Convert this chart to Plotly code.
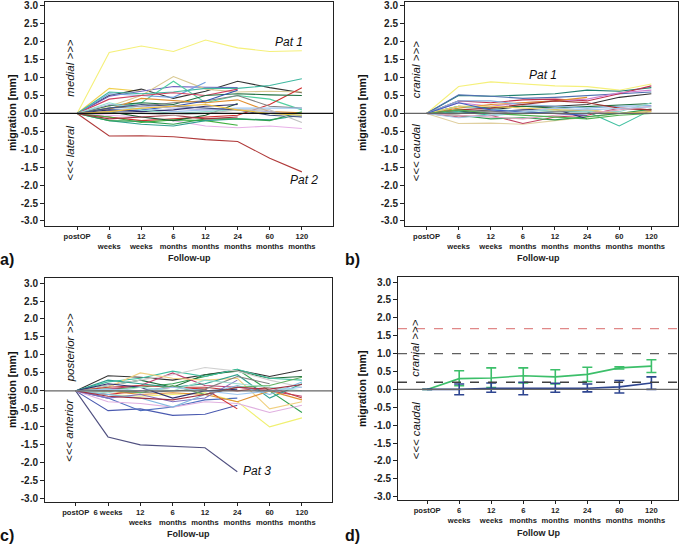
import plotly.graph_objects as go

# follow-up time points
labels = ["postOP", "6<br>weeks", "12<br>weeks", "6<br>months", "12<br>months",
          "24<br>months", "60<br>months", "120<br>months"]
labels_c = ["postOP", "6 weeks", "12<br>weeks", "6<br>months", "12<br>months",
            "24<br>months", "60<br>months", "120<br>months"]
pos = list(range(len(labels)))

# a) medio-lateral migration per patient [mm]
ml_values = [
    [0, 1.70, 1.88, 1.73, 2.05, 1.83, 1.73, 1.75],
    [0, -0.63, -0.62, -0.65, -0.73, -0.78, -1.25, -1.63],
    [0, 0.70, 0.62, None, None, None, None, None],
    [0, 0.50, 0.68, 0.42, 0.62, 0.90, 0.72, 0.58],
    [0, 0.48, 0.62, 0.75, 0.73, 0.72, None, None],
    [0, 0.20, 0.50, 1.03, 0.68, 0.60, 0.62, 0.60],
    [0, 0.15, 0.30, 0.90, 0.30, 0.50, 0.40, 0.10],
    [0, 0.55, 0.50, 0.45, 0.87, None, None, None],
    [0, 0.60, 0.55, 0.60, 0.70, 0.70, 0.78, 0.97],
    [0, 0.40, 0.50, 0.58, 0.50, 0.68, None, None],
    [0, -0.10, -0.20, -0.15, -0.10, -0.05, 0.25, 0.72],
    [0, 0.22, 0.30, 0.25, 0.50, 0.55, 0.52, 0.50],
    [0, 0.15, 0.20, 0.30, 0.35, 0.50, 0.20, 0.15],
    [0, 0.12, 0.42, 0.35, 0.30, 0.38, 0.05, 0.02],
    [0, 0.05, 0.10, 0.20, 0.35, 0.65, None, None],
    [0, -0.05, -0.10, -0.20, -0.35, -0.40, -0.35, -0.42],
    [0, -0.10, -0.25, -0.18, -0.20, -0.33, None, None],
    [0, 0.05, -0.10, -0.20, -0.05, 0.28, None, None],
    [0, -0.20, -0.30, -0.35, -0.20, -0.15, -0.18, -0.05],
    [0, 0.10, 0.15, 0.05, 0.10, 0.15, 0.15, 0.15],
    [0, 0.25, 0.20, 0.15, 0.10, 0.10, 0.05, -0.10],
    [0, -0.20, -0.22, -0.30, -0.15, -0.15, -0.20, 0.05],
    [0, -0.15, -0.10, -0.05, -0.15, -0.10, None, None],
    [0, 0.10, 0.05, 0.10, 0.20, 0.25, None, None],
    [0, 0.30, 0.10, 0.00, 0.05, 0.10, 0.00, -0.05],
    [0, 0.15, 0.25, 0.20, 0.15, 0.10, -0.05, -0.10],
    [0, 0.05, 0.00, -0.05, 0.00, 0.10, 0.10, -0.25],
    [0, 0.05, 0.15, 0.20, 0.25, 0.10, 0.00, -0.05],
]
ml_colors = ["#f5f07a", "#b03a3a", "#f0d050", "#333333", "#7060c0", "#d8c890", "#50d0a0",
             "#70a0e0", "#40b8a0", "#d04060", "#d03030", "#207040", "#808080", "#e09030",
             "#3050b0", "#e8b0e8", "#40b040", "#1a6030", "#30a090", "#a0c8f0", "#b0b0e0",
             "#30a050", "#a03040", "#303070", "#90e0d0", "#405080", "#c0c0c0", "#f0c040"]

# b) cranio-caudal migration per patient [mm]
cc_values = [
    [0, 0.75, 0.88, 0.82, 0.77, 0.75, 0.65, 0.82],
    [0, 0.50, 0.48, 0.52, 0.55, 0.65, 0.62, 0.72],
    [0, 0.52, 0.48, 0.42, 0.45, 0.50, 0.55, 0.60],
    [0, 0.35, 0.30, 0.38, 0.40, 0.35, 0.55, 0.77],
    [0, 0.30, 0.20, 0.30, 0.35, 0.40, 0.58, 0.65],
    [0, 0.05, 0.10, 0.20, 0.20, 0.25, 0.45, 0.55],
    [0, 0.05, -0.05, 0.00, 0.05, 0.05, -0.35, 0.10],
    [0, -0.28, -0.27, -0.30, -0.20, -0.10, 0.00, 0.10],
    [0, -0.10, -0.05, -0.28, -0.10, -0.05, 0.15, 0.10],
    [0, -0.05, -0.15, -0.12, -0.18, -0.10, 0.00, 0.12],
    [0, 0.15, 0.25, 0.30, 0.35, 0.45, None, None],
    [0, 0.20, 0.15, 0.20, 0.15, 0.20, 0.25, 0.28],
    [0, 0.35, 0.35, 0.25, 0.20, 0.15, 0.20, 0.22],
    [0, 0.00, 0.05, 0.10, 0.12, -0.15, None, None],
    [0, 0.20, 0.12, 0.05, 0.10, 0.05, 0.05, 0.30],
    [0, 0.10, 0.05, 0.00, 0.05, 0.10, 0.00, 0.05],
    [0, 0.10, 0.15, 0.25, 0.35, 0.30, 0.15, 0.10],
    [0, 0.20, 0.20, 0.15, 0.10, 0.10, 0.00, 0.05],
    [0, -0.05, -0.10, -0.15, -0.05, 0.00, 0.10, 0.20],
    [0, 0.10, 0.00, -0.05, -0.10, -0.15, -0.05, 0.00],
    [0, 0.30, 0.10, 0.05, 0.00, -0.05, None, None],
    [0, -0.12, -0.05, 0.05, 0.15, 0.10, 0.15, 0.18],
]
cc_colors = ["#f5f07a", "#208070", "#5070b0", "#c03050", "#d080d0", "#333333", "#40c0a0",
             "#e0d0a0", "#c04060", "#30a050", "#e09030", "#207040", "#80b0e0", "#303070",
             "#90d8c8", "#909090", "#a03030", "#f0d060", "#e0a0c0", "#50b050", "#4060c0",
             "#a8c8e8"]

# c) antero-posterior migration per patient [mm]
ap_values = [
    [0, -1.28, -1.50, -1.55, -1.58, -2.25, None, None],
    [0, -0.55, -0.50, -0.68, -0.65, -0.40, None, None],
    [0, -0.20, -0.55, -0.45, -0.25, -0.20, None, None],
    [0, -0.10, -0.15, -0.10, -0.05, -0.30, -1.00, -0.75],
    [0, 0.05, 0.10, 0.20, 0.40, 0.60, 0.00, -0.60],
    [0, 0.42, 0.38, 0.30, 0.45, 0.58, 0.40, 0.58],
    [0, 0.15, 0.30, 0.10, 0.45, 0.55, 0.35, 0.40],
    [0, 0.25, 0.35, 0.55, 0.40, 0.60, 0.35, 0.30],
    [0, 0.05, 0.15, 0.50, 0.15, 0.10, 0.00, -0.15],
    [0, 0.15, 0.30, 0.45, 0.65, 0.55, 0.30, 0.10],
    [0, 0.10, 0.50, 0.35, 0.30, 0.35, -0.50, -0.30],
    [0, -0.30, -0.35, -0.45, -0.30, -0.35, -0.60, -0.40],
    [0, -0.10, 0.00, 0.10, 0.05, -0.50, None, None],
    [0, 0.10, 0.15, 0.10, 0.10, 0.00, 0.10, -0.20],
    [0, 0.30, 0.20, 0.10, 0.20, 0.45, -0.20, 0.20],
    [0, 0.00, -0.10, -0.05, -0.10, -0.30, 0.00, -0.25],
    [0, -0.20, -0.10, -0.30, -0.20, 0.30, None, -0.38],
    [0, -0.10, -0.20, -0.45, -0.10, 0.15, -0.10, 0.25],
    [0, 0.00, -0.05, 0.00, 0.05, 0.40, 0.20, None],
    [0, 0.20, 0.10, -0.20, 0.00, 0.05, None, None],
    [0, 0.05, -0.05, 0.15, -0.10, 0.10, 0.15, 0.38],
    [0, -0.05, 0.10, 0.00, 0.30, 0.20, 0.10, 0.00],
    [0, -0.15, -0.20, -0.25, -0.10, 0.10, 0.05, 0.18],
    [0, 0.05, 0.00, 0.10, 0.00, -0.10, 0.00, 0.10],
]
ap_colors = ["#505080", "#4a5ab0", "#5070c0", "#f0f070", "#30a050", "#333333", "#1e6b3a",
             "#40c0a0", "#c04070", "#d0d0d0", "#f0d080", "#e0b0e0", "#d03030", "#c04040",
             "#30a090", "#e09030", "#8070c0", "#80b8e0", "#808080", "#303070", "#60b060",
             "#a0e0d0", "#a03040", "#a0c8f0"]

# d) cranio-caudal mean with error bars, two groups
green_mean = [0, 0.30, 0.32, 0.38, 0.35, 0.42, 0.60, 0.65]
green_lo = [None, 0.10, 0.05, 0.18, 0.15, 0.22, 0.57, 0.47]
green_hi = [None, 0.52, 0.60, 0.60, 0.55, 0.62, 0.63, 0.83]
blue_mean = [0, 0.00, 0.03, 0.03, 0.03, 0.03, 0.07, 0.18]
blue_lo = [None, -0.15, -0.08, -0.15, -0.08, -0.07, -0.10, 0.00]
blue_hi = [None, 0.15, 0.18, 0.20, 0.17, 0.15, 0.25, 0.35]
thresholds = [1.7, 1.0, 0.2]
threshold_colors = ["#e08888", "#606060", "#404040"]

yticks = [3.0, 2.5, 2.0, 1.5, 1.0, 0.5, 0.0, -0.5, -1.0, -1.5, -2.0, -2.5, -3.0]

W, H = 685, 547
FONT = "Liberation Sans"


def px(x):
    return x / W


def py(y):
    return 1 - y / H


fig = go.Figure()

panels = [
    # axis suffix, x px domain, y px domain, x range, y range, tick labels
    ("", (45, 333), (2, 226), [-1.0, 7.97], [-3.14, 3.11], labels),
    ("2", (405, 678), (2, 226), [-0.67, 7.83], [-3.14, 3.11], labels),
    ("3", (45, 332), (278, 502), [-0.95, 7.93], [-3.09, 3.14], labels_c),
    ("4", (398, 678), (277, 500), [-0.91, 7.83], [-3.09, 3.14], labels),
]

for sfx, (x0, x1), (y0, y1), xr, yr, tl in panels:
    fig.layout["xaxis" + sfx] = dict(
        domain=[px(x0), px(x1)], range=xr, anchor="y" + sfx, automargin=False,
        tickvals=pos, ticktext=tl, ticks="outside", ticklen=3, tickcolor="#222",
        tickangle=0, showgrid=False, zeroline=False,
        showline=True, linecolor="#222", linewidth=1, mirror=True,
        tickfont=dict(family=FONT, size=7.6, color="#222", weight="bold"),
    )
    fig.layout["yaxis" + sfx] = dict(
        domain=[py(y1), py(y0)], range=yr, anchor="x" + sfx, automargin=False,
        tickvals=yticks, ticktext=[f"{v:.1f}" for v in yticks],
        ticks="outside", ticklen=4, tickcolor="#222", showgrid=False, zeroline=False,
        showline=True, linecolor="#222", linewidth=1, mirror=True,
        tickfont=dict(family=FONT, size=10, color="#222", weight="bold"),
    )

for sfx, values, colors in [("", ml_values, ml_colors), ("2", cc_values, cc_colors),
                            ("3", ap_values, ap_colors)]:
    for vals, col in zip(values, colors):
        fig.add_trace(go.Scatter(
            x=pos, y=vals, mode="lines", line=dict(color=col, width=1.1),
            connectgaps=False, showlegend=False, xaxis="x" + sfx, yaxis="y" + sfx,
        ))

# panel d: means with error bars
for mean, lo, hi, col in [(green_mean, green_lo, green_hi, "#3cbf6a"),
                          (blue_mean, blue_lo, blue_hi, "#2e4590")]:
    plus = [None if h is None else h - m for m, h in zip(mean, hi)]
    minus = [None if l is None else m - l for m, l in zip(mean, lo)]
    fig.add_trace(go.Scatter(
        x=pos, y=mean, mode="lines", line=dict(color=col, width=1.6),
        error_y=dict(type="data", array=plus, arrayminus=minus, color=col,
                     thickness=1.6, width=5),
        showlegend=False, xaxis="x4", yaxis="y4",
    ))

for th, col in zip(thresholds, threshold_colors):
    fig.add_shape(type="line", xref="x4 domain", x0=0, x1=1, yref="y4", y0=th, y1=th,
                  line=dict(color=col, width=1.3, dash="dash"), layer="above")

# zero lines
for sfx, col in [("", "#111"), ("2", "#666"), ("3", "#666"), ("4", "#666")]:
    fig.add_shape(type="line", xref=("x" + sfx + " domain"), x0=0, x1=1,
                  yref="y" + sfx, y0=0, y1=0, line=dict(color=col, width=1.3), layer="above")

ann = []
# axis titles and panel letters
for x, y in [(12, 113), (362, 113), (12, 390), (362, 389)]:
    ann.append(dict(x=px(x), y=py(y), text="migration [mm]", textangle=-90,
                    font=dict(family=FONT, size=10.5, color="#111", weight="bold")))
for x, y, t in [(189, 258, "Follow-up"), (538, 258, "Follow-up"),
                (188, 534, "Follow-up"), (538, 533, "Follow Up")]:
    ann.append(dict(x=px(x), y=py(y), text=t,
                    font=dict(family=FONT, size=9, color="#222", weight="bold")))
for x, y, t in [(7, 259, "a)"), (352, 259, "b)"), (7, 535, "c)"), (352, 535, "d)")]:
    ann.append(dict(x=px(x), y=py(y), text=t,
                    font=dict(family=FONT, size=16, color="#111", weight="bold")))
for a in ann:
    a.update(xref="paper", yref="paper", showarrow=False,
             xanchor="center", yanchor="middle")

# direction hints (data coordinates)
for sfx, x, up, upy, down, downy in [
    ("", -0.22, "medial >>>", 1.28, "<<< lateral", -1.12),
    ("2", -0.34, "cranial >>>", 1.22, "<<< caudal", -1.1),
    ("3", -0.19, "posterior >>>", 1.2, "<<< anterior", -1.1),
    ("4", -0.36, "cranial >>>", 1.15, "<<< caudal", -1.16),
]:
    for t, yv in [(up, upy), (down, downy)]:
        ann.append(dict(x=x, y=yv, xref="x" + sfx, yref="y" + sfx, text=t, textangle=-90,
                        showarrow=False, xanchor="center", yanchor="middle",
                        font=dict(family=FONT, size=11.5, color="#111", style="italic")))

for sfx, x, y, t in [("", 6.6, 2.0, "Pat 1"), ("", 7.06, -1.87, "Pat 2"),
                     ("2", 3.62, 1.08, "Pat 1"), ("3", 5.6, -2.24, "Pat 3")]:
    ann.append(dict(x=x, y=y, xref="x" + sfx, yref="y" + sfx, text=t, showarrow=False,
                    xanchor="center", yanchor="middle",
                    font=dict(family=FONT, size=12, color="#111", style="italic")))

fig.update_layout(
    width=W, height=H, margin=dict(l=0, r=0, t=0, b=0),
    paper_bgcolor="white", plot_bgcolor="white", annotations=ann,
    font=dict(family=FONT),
)

# the page body keeps its default 8px margin otherwise
fig.write_html("out.html", config={"displayModeBar": False},
               post_script="document.body.style.margin = '0';")
